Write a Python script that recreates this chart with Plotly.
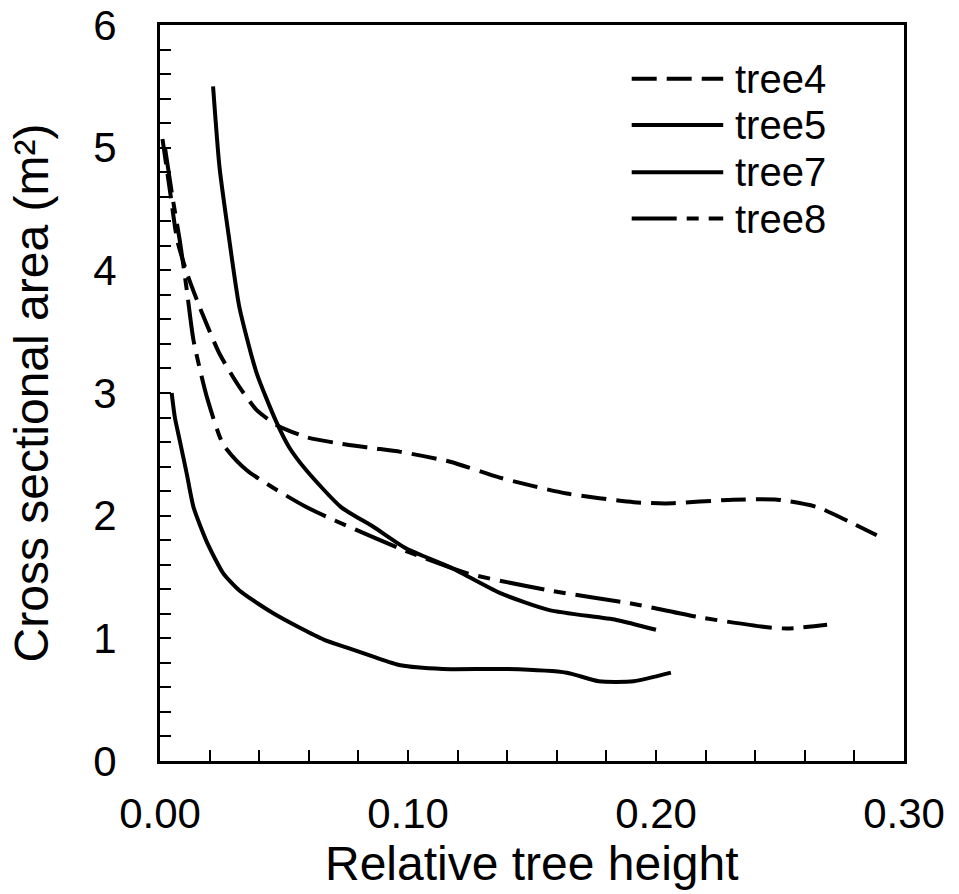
import plotly.graph_objects as go

# ---- data ----
tree4_x = [0.001, 0.004, 0.007, 0.011, 0.016, 0.024, 0.032, 0.039, 0.047, 0.059, 0.075, 0.086, 0.097,
           0.117, 0.137, 0.164, 0.191, 0.204, 0.231, 0.249, 0.265, 0.278, 0.289]
tree4_y = [5.07, 4.65, 4.24, 3.97, 3.70, 3.32, 3.05, 2.86, 2.74, 2.64, 2.58, 2.55, 2.52,
           2.44, 2.31, 2.18, 2.11, 2.10, 2.13, 2.13, 2.07, 1.95, 1.84]

tree5_x = [0.0214, 0.024, 0.028, 0.032, 0.039, 0.047, 0.052, 0.059, 0.073, 0.086, 0.0995,
           0.117, 0.137, 0.157, 0.184, 0.200]
tree5_y = [5.50, 4.84, 4.24, 3.70, 3.16, 2.76, 2.56, 2.37, 2.07, 1.91, 1.73,
           1.58, 1.37, 1.23, 1.15, 1.07]

tree7_x = [0.0047, 0.006, 0.008, 0.0108, 0.0135, 0.019, 0.0255, 0.032, 0.039, 0.046, 0.056,
           0.066, 0.076, 0.086, 0.097, 0.114, 0.140, 0.164, 0.177, 0.191, 0.206]
tree7_y = [3.00, 2.80, 2.61, 2.34, 2.07, 1.78, 1.53, 1.39, 1.29, 1.20, 1.09,
           0.99, 0.92, 0.85, 0.78, 0.75, 0.75, 0.72, 0.65, 0.65, 0.72]

tree8_x = [0.002, 0.005, 0.008, 0.0108, 0.0135, 0.019, 0.0255, 0.035, 0.059, 0.097,
           0.124, 0.157, 0.191, 0.218, 0.245, 0.253, 0.269]
tree8_y = [5.00, 4.60, 4.24, 3.84, 3.43, 2.96, 2.58, 2.37, 2.07, 1.73,
           1.53, 1.39, 1.28, 1.17, 1.09, 1.08, 1.11]

series_names = ["tree4", "tree5", "tree7", "tree8"]
x_tick_vals = [0.0, 0.1, 0.2, 0.3]
x_tick_text = ["0.00", "0.10", "0.20", "0.30"]
y_tick_vals = [0, 1, 2, 3, 4, 5, 6]
x_title = "Relative tree height"
y_title = "Cross sectional area (m²)"

FONT = "Liberation Sans, Arial, sans-serif"
DASH4 = "25px,10px"
DASH8 = "45px,10px,12px,10px"
styles = [DASH4, "solid", "solid", DASH8]
xs = [tree4_x, tree5_x, tree7_x, tree8_x]
ys = [tree4_y, tree5_y, tree7_y, tree8_y]

fig = go.Figure()
for name, x, y, d in zip(series_names, xs, ys, styles):
    fig.add_trace(go.Scatter(x=x, y=y, mode="lines", name=name,
                             line=dict(color="black", width=4, dash=d, shape="spline", smoothing=0.6),
                             showlegend=False))

# manual legend (long line samples like the reference)
leg_y = [0.927, 0.864, 0.800, 0.737]
for name, d, yy in zip(series_names, styles, leg_y):
    fig.add_shape(type="line", xref="paper", yref="paper", x0=0.634, x1=0.757, y0=yy, y1=yy,
                  line=dict(color="black", width=4, dash=d))
    fig.add_annotation(xref="paper", yref="paper", x=0.770, y=yy, text=name, showarrow=False,
                       xanchor="left", yanchor="middle", font=dict(family=FONT, size=40, color="black"))

# x-axis title (placed as text so its descenders stay inside the page)
fig.add_annotation(xref="paper", yref="paper", x=0.5, y=-0.178, text=x_title, showarrow=False,
                   xanchor="center", yanchor="bottom", font=dict(family=FONT, size=48, color="black"))

fig.update_layout(
    width=959, height=894,
    margin=dict(l=160, r=55, t=25, b=133),
    paper_bgcolor="white", plot_bgcolor="white",
    font=dict(family=FONT, color="black"),
    showlegend=False,
)
fig.update_xaxes(
    range=[0, 0.30], tickvals=x_tick_vals, ticktext=x_tick_text,
    ticks="inside", ticklen=11, tickwidth=2, tickcolor="black",
    minor=dict(dtick=0.02, ticks="inside", ticklen=11, tickwidth=2, tickcolor="black"),
    showline=True, linecolor="black", linewidth=3, mirror=True,
    showgrid=False, zeroline=False, automargin=False, ticklabeloverflow="allow",
    tickfont=dict(size=42, family=FONT), ticklabelstandoff=14,
)
fig.update_yaxes(
    range=[0, 6], tickvals=y_tick_vals,
    ticks="inside", ticklen=11, tickwidth=2, tickcolor="black",
    minor=dict(dtick=0.2, ticks="inside", ticklen=11, tickwidth=2, tickcolor="black"),
    showline=True, linecolor="black", linewidth=3, mirror=True,
    showgrid=False, zeroline=False, automargin=False, ticklabeloverflow="allow",
    tickfont=dict(size=42, family=FONT), ticklabelstandoff=32,
    title=dict(text=y_title, font=dict(size=48, family=FONT), standoff=30),
)

# remove the browser's default 8px body margin so the figure fills the window exactly
fig.write_html("out.html",
               config={"displayModeBar": False},
               post_script="document.body.style.margin='0';document.body.style.overflow='hidden';")
